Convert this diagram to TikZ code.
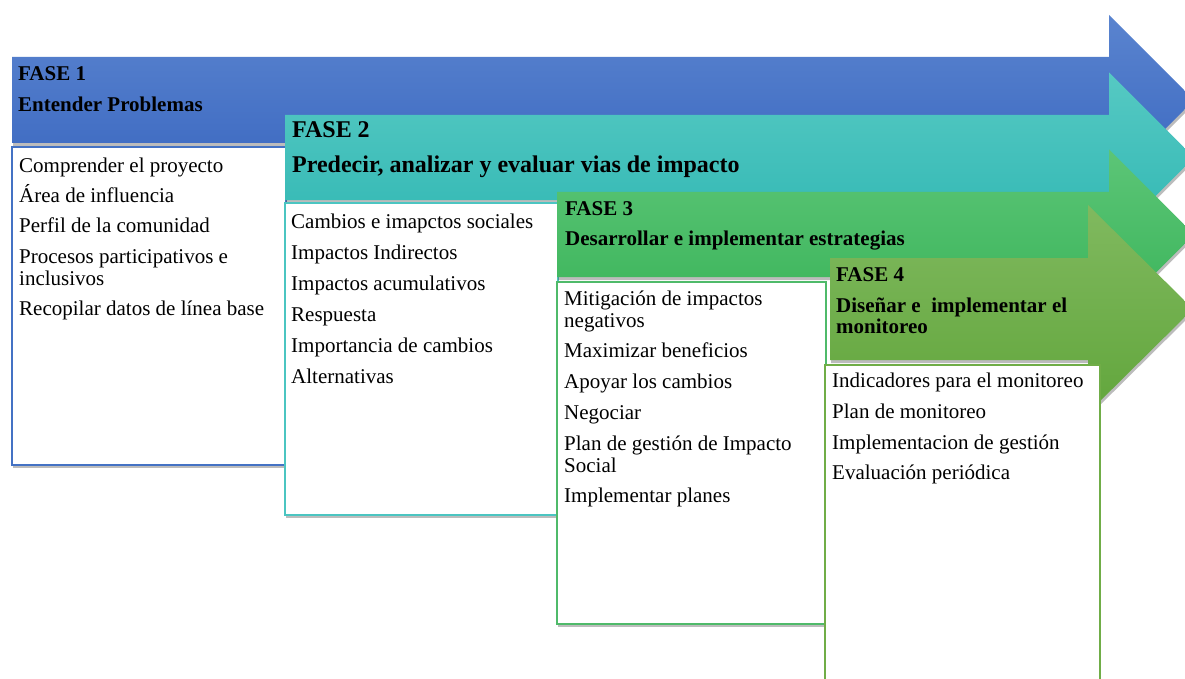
\documentclass[tikz,border=0pt]{standalone}
\usepackage{fontspec}
\setmainfont{Liberation Serif}
\usetikzlibrary{shadows}
\definecolor{bluetop}{HTML}{5A84CF}
\definecolor{bluebot}{HTML}{3A67C0}
\definecolor{blueline}{HTML}{4472C4}
\definecolor{tealtop}{HTML}{56C9C3}
\definecolor{tealbot}{HTML}{30B7B3}
\definecolor{tealline}{HTML}{4BC5C1}
\definecolor{greentop}{HTML}{5CC577}
\definecolor{greenbot}{HTML}{3AB459}
\definecolor{greenline}{HTML}{4FBA6A}
\definecolor{limetop}{HTML}{80B95F}
\definecolor{limebot}{HTML}{62A63C}
\definecolor{limeline}{HTML}{70AD47}
\begin{document}
\begin{tikzpicture}[x=1pt,y=-1pt,
  txt/.style={anchor=base west, inner sep=0pt, font=\fontsize{21}{22}\selectfont},
  hd/.style={anchor=base west, inner sep=0pt, font=\fontsize{21}{22}\selectfont\bfseries},
  hdbig/.style={anchor=base west, inner sep=0pt, font=\fontsize{24}{26}\selectfont\bfseries},
  shad/.style={drop shadow={shadow xshift=1pt, shadow yshift=-3pt, opacity=0.35, fill=black!75}},
  arrowshape/.style={shad},
  infobox/.style={fill=white, line width=1.1pt, shad}
]
\useasboundingbox (0,0) rectangle (1185,679);
\clip (0,0) rectangle (1185,679);

% Phase 1
\path[arrowshape, top color=bluetop, bottom color=bluebot]
  (12,57) -- (1109,57) -- (1109,15) -- (1194,100) -- (1109,185) -- (1109,143) -- (12,143) -- cycle;
\node[hd] (f1) at (18,81) {FASE 1};
\node[hd] (f1t) at (18,112) {Entender Problemas};
\path[infobox, draw=blueline] (12,147) rectangle (286,465);
\node[txt] (a1) at (19,172) {Comprender el proyecto};
\node[txt] (a2) at (19,202) {Área de influencia};
\node[txt] (a3) at (19,232) {Perfil de la comunidad};
\node[txt] (a4) at (19,263) {Procesos participativos e};
\node[txt] (a4b) at (19,285) {inclusivos};
\node[txt] (a5) at (19,315) {Recopilar datos de línea base};

% Phase 2
\path[arrowshape, top color=tealtop, bottom color=tealbot]
  (285,115) -- (1109,115) -- (1109,72.5) -- (1194,157.5) -- (1109,242.5) -- (1109,200) -- (285,200) -- cycle;
\node[hdbig] (f2) at (292,138) {FASE 2};
\node[hdbig] (f2t) at (292,172) {Predecir, analizar y evaluar vias de impacto};
\path[infobox, draw=tealline] (285,203) rectangle (558,515);
\node[txt] (b1) at (291,228) {Cambios e imapctos sociales};
\node[txt] (b2) at (291,259) {Impactos Indirectos};
\node[txt] (b3) at (291,290) {Impactos acumulativos};
\node[txt] (b4) at (291,321) {Respuesta};
\node[txt] (b5) at (291,352) {Importancia de cambios};
\node[txt] (b6) at (291,383) {Alternativas};

% Phase 3
\path[arrowshape, top color=greentop, bottom color=greenbot]
  (557,192) -- (1109,192) -- (1109,149.5) -- (1194,234.5) -- (1109,319.5) -- (1109,277) -- (557,277) -- cycle;
\node[hd] (f3) at (565,215) {FASE 3};
\node[hd] (f3t) at (565,245) {Desarrollar e implementar estrategias};
\path[infobox, draw=greenline] (557,282) rectangle (826,624);
\node[txt] (c1) at (564,305) {Mitigación de impactos};
\node[txt] (c1b) at (564,327) {negativos};
\node[txt] (c2) at (564,357) {Maximizar beneficios};
\node[txt] (c3) at (564,388) {Apoyar los cambios};
\node[txt] (c4) at (564,419) {Negociar};
\node[txt] (c5) at (564,450) {Plan de gestión de Impacto};
\node[txt] (c5b) at (564,472) {Social};
\node[txt] (c6) at (564,502) {Implementar planes};

% Phase 4
\path[arrowshape, top color=limetop, bottom color=limebot]
  (830,258) -- (1088,258) -- (1088,205) -- (1193,309) -- (1088,413) -- (1088,360) -- (830,360) -- cycle;
\node[hd] (f4) at (836,281) {FASE 4};
\node[hd] (f4t) at (836,312) {Diseñar e\ \ implementar el};
\node[hd] (f4tb) at (836,333) {monitoreo};
\path[infobox, draw=limeline] (825,365) rectangle (1100,700);
\node[txt] (d1) at (832,387) {Indicadores para el monitoreo};
\node[txt] (d2) at (832,418) {Plan de monitoreo};
\node[txt] (d3) at (832,449) {Implementacion de gestión};
\node[txt] (d4) at (832,479) {Evaluación periódica};
\end{tikzpicture}
\end{document}
